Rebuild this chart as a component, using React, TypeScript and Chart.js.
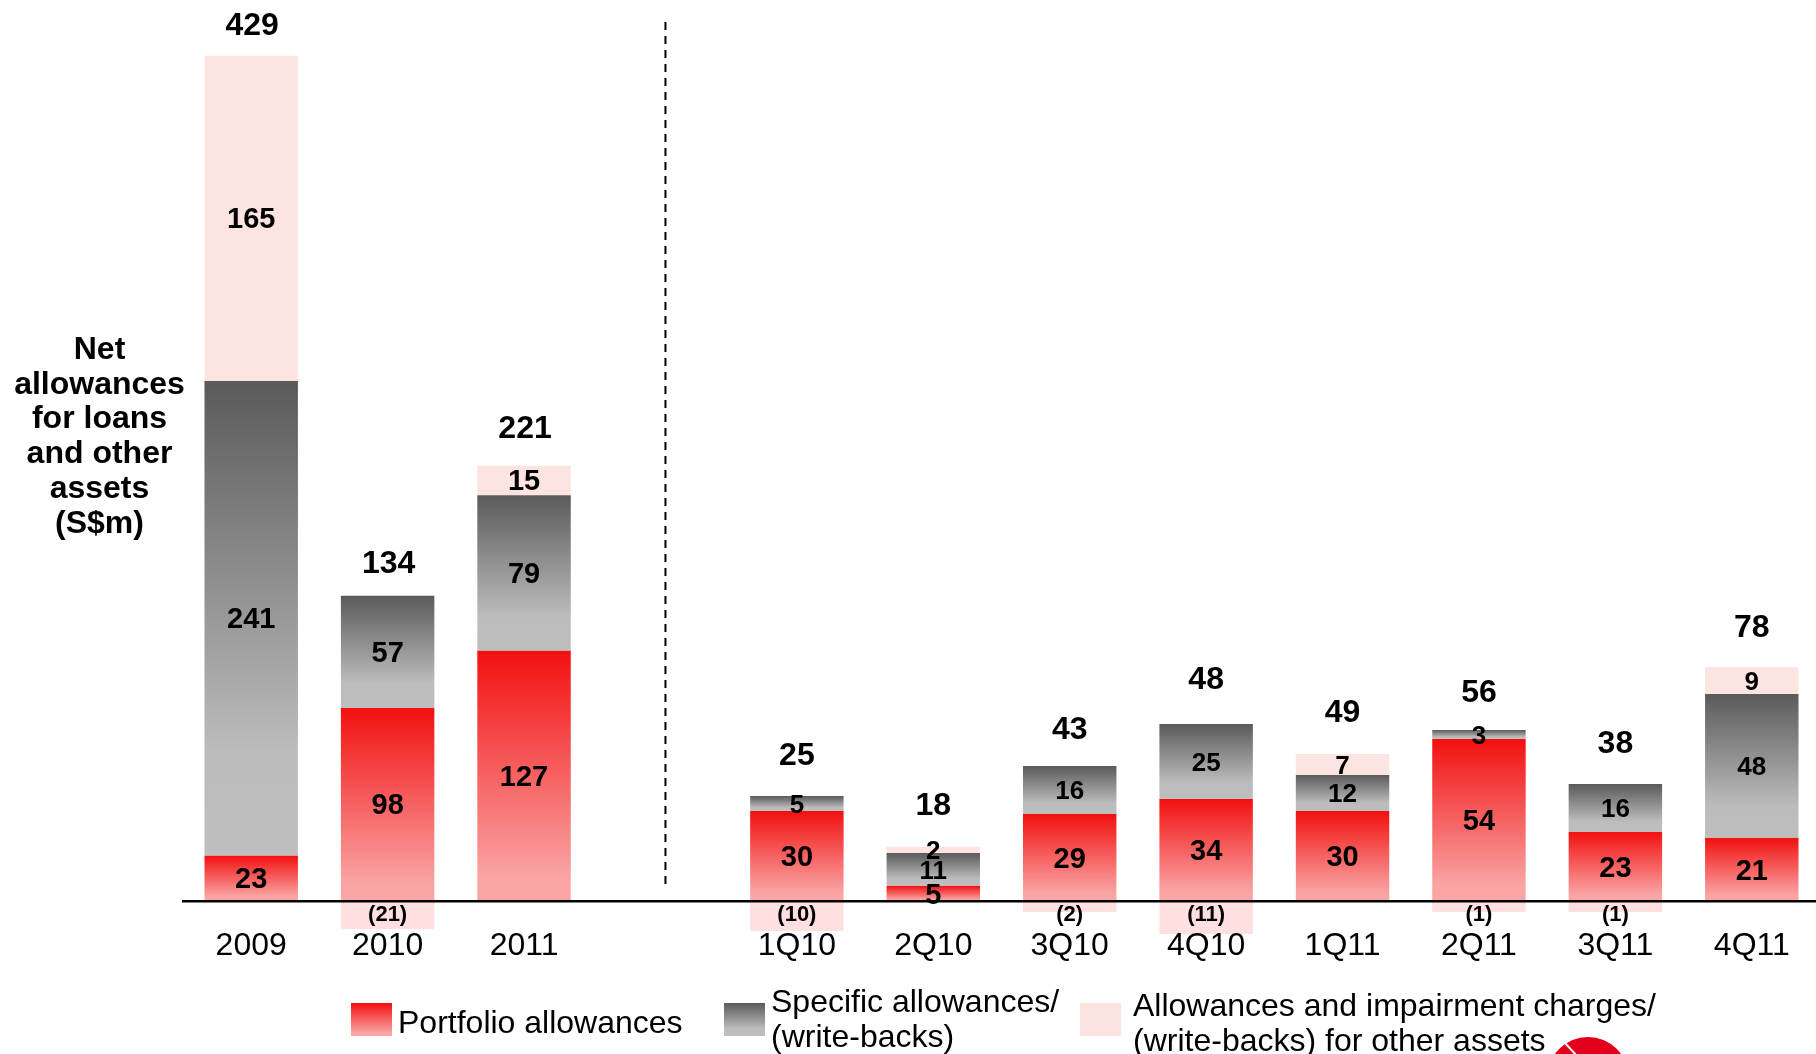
import React, { useEffect, useRef } from "react";
import { Chart, registerables } from "chart.js";

Chart.register(...registerables);

// Categories
const yearLabels = ["2009", "2010", "2011"];
const quarterLabels = ["1Q10", "2Q10", "3Q10", "4Q10", "1Q11", "2Q11", "3Q11", "4Q11"];

// Annual figures (S$m)
const portfolioYear = [23, 98, 127];
const specificYear = [241, 57, 79];
const otherYear = [165, -21, 15];
const totalYear = [429, 134, 221];

// Quarterly figures (S$m)
const portfolioQuarter = [30, 5, 29, 34, 30, 54, 23, 21];
const specificQuarter = [5, 11, 16, 25, 12, 3, 16, 48];
const otherQuarter = [-10, 2, -2, -11, 7, -1, -1, 9];
const totalQuarter = [25, 18, 43, 48, 49, 56, 38, 78];

// Text
const axisTitleLines = ["Net", "allowances", "for loans", "and other", "assets", "(S$m)"];
const legendPortfolio = ["Portfolio allowances"];
const legendSpecific = ["Specific allowances/", "(write-backs)"];
const legendOther = ["Allowances and impairment charges/", "(write-backs) for other assets"];

// Style
const FONT = '"Liberation Sans", Arial, sans-serif';
const RED_STOPS: [number, string][] = [[0, "#F21010"], [0.9, "#FAA3A3"], [1, "#FBA6A6"]];
const GREY_STOPS: [number, string][] = [[0, "#5A5A5A"], [0.78, "#BCBCBC"], [1, "#BEBEBE"]];
const PINK = "#FEE4E0";
const PINK_BELOW = "#FFDFE0";
const LEFT = 183;
const SLOT = 136.45;
const AREA_BOTTOM = 960;
const ZERO_Y = 901;
const TEXT_NUDGE = 2;

// Height of one unit in pixels for each of the independent value axes
const YEAR_UNIT = 1.97;
const QUARTER_UNIT = 3;
const YEAR_BELOW_UNIT = 1.33;

// Distance between each column's top and its total label
const yearTotalGap = [32, 33, 38];
const quarterTotalGap = [42, 43, 38, 46, 43, 39, 42, 41];

const categories = [...yearLabels, "", ...quarterLabels];
const forYears = (v: (number | null)[]) => [...v, ...Array(categories.length - yearLabels.length).fill(null)];
const forQuarters = (v: (number | null)[]) => [...Array(categories.length - quarterLabels.length).fill(null), ...v];
const above = (v: number[]) => v.map((n) => (n > 0 ? n : null));
const below = (v: number[]) => v.map((n) => (n < 0 ? n : null));

const axisRange = (unit: number) => ({
  min: -(AREA_BOTTOM - ZERO_Y) / unit,
  max: ZERO_Y / unit,
  stacked: true,
  display: false,
});

// A vertical gradient that spans exactly one bar segment
const segmentFill = (stops: [number, string][], lower: (number | null)[] | null, axisId: string) => (ctx: any) => {
  const raw = ctx.raw;
  if (ctx.type !== "data" || raw == null) return stops[0][1];
  const base = lower ? lower[ctx.dataIndex] ?? 0 : 0;
  const scale = ctx.chart.scales[axisId];
  const y0 = scale?.getPixelForValue(base + raw);
  const y1 = scale?.getPixelForValue(base);
  if (!Number.isFinite(y0) || !Number.isFinite(y1) || y0 === y1) return stops[0][1];
  const g = ctx.chart.ctx.createLinearGradient(0, y0, 0, y1);
  stops.forEach(([p, c]) => g.addColorStop(p, c));
  return g;
};

const drawLines = (c: CanvasRenderingContext2D, lines: string[], x: number, y: number, step: number) => {
  lines.forEach((line, i) => c.fillText(line, x, y + i * step));
};

const swatch = (c: CanvasRenderingContext2D, x: number, fill: string | [number, string][]) => {
  const top = 1003;
  const h = 33;
  if (typeof fill === "string") {
    c.fillStyle = fill;
  } else {
    const g = c.createLinearGradient(0, top, 0, top + h);
    fill.forEach(([p, col]) => g.addColorStop(p, col));
    c.fillStyle = g;
  }
  c.fillRect(x, top, 41, h);
};

// Value labels, totals, dashed divider, axis caption, legend and corner logo
const annotations = {
  id: "annotations",
  afterDraw(chart: any) {
    const c: CanvasRenderingContext2D = chart.ctx;
    c.save();
    c.fillStyle = "#000";
    c.textBaseline = "middle";
    c.textAlign = "center";

    chart.data.datasets.forEach((ds: any, i: number) => {
      const meta = chart.getDatasetMeta(i);
      ds.data.forEach((v: number | null, idx: number) => {
        if (v == null) return;
        const el = meta.data[idx];
        c.font = `bold ${ds.labelSize}px ${FONT}`;
        if (v < 0) {
          c.fillText(`(${-v})`, el.x, ZERO_Y + 12 + TEXT_NUDGE);
        } else {
          c.fillText(String(v), el.x, (el.y + el.base) / 2 + TEXT_NUDGE);
        }
      });
    });

    // Totals above each column
    c.font = `bold 32px ${FONT}`;
    const xScale = chart.scales.x;
    const yScale = chart.scales.y;
    const qScale = chart.scales.yQ;
    totalYear.forEach((t, i) => {
      const top = portfolioYear[i] + specificYear[i] + Math.max(otherYear[i], 0);
      c.fillText(String(t), xScale.getPixelForValue(i) + 1, yScale.getPixelForValue(top) - yearTotalGap[i] + TEXT_NUDGE);
    });
    totalQuarter.forEach((t, i) => {
      const top = portfolioQuarter[i] + specificQuarter[i] + Math.max(otherQuarter[i], 0);
      const col = categories.length - quarterLabels.length + i;
      c.fillText(String(t), xScale.getPixelForValue(col), qScale.getPixelForValue(top) - quarterTotalGap[i] + TEXT_NUDGE);
    });

    // Divider between the annual and the quarterly columns
    c.strokeStyle = "#000";
    c.lineWidth = 2;
    c.setLineDash([8, 6]);
    const dividerX = xScale.getPixelForValue(yearLabels.length) + 5;
    c.beginPath();
    c.moveTo(dividerX, 22);
    c.lineTo(dividerX, 884);
    c.stroke();
    c.setLineDash([]);

    // Caption beside the annual columns
    c.font = `bold 32px ${FONT}`;
    drawLines(c, axisTitleLines, 99.5, 350, 34.8);

    // Legend
    swatch(c, 351, RED_STOPS);
    swatch(c, 724, GREY_STOPS);
    swatch(c, 1080, "#FDE3DF");
    c.fillStyle = "#000";
    c.textAlign = "left";
    c.font = `32px ${FONT}`;
    drawLines(c, legendPortfolio, 398, 1024, 34.8);
    drawLines(c, legendSpecific, 771, 1003, 34.8);
    drawLines(c, legendOther, 1133, 1007, 34.8);

    // Corner logo
    c.fillStyle = "#E2001A";
    c.beginPath();
    c.arc(1588, 1077.5, 40.5, 0, Math.PI * 2);
    c.fill();
    c.strokeStyle = "#fff";
    c.lineWidth = 2;
    c.beginPath();
    c.moveTo(1565, 1043);
    c.lineTo(1577, 1056);
    c.stroke();
    c.restore();
  },
};

const bar = (
  data: (number | null)[],
  yAxisID: string,
  backgroundColor: any,
  labelSize: number,
  extra: object = {}
) => ({ data, yAxisID, backgroundColor, labelSize, borderWidth: 0, ...extra });

export default function App() {
  const ref = useRef<HTMLCanvasElement>(null);

  useEffect(() => {
    if (!ref.current) return;
    const yearLower = forYears(portfolioYear);
    const quarterLower = forQuarters(portfolioQuarter);

    const chart = new Chart(ref.current, {
      type: "bar",
      data: {
        labels: categories,
        datasets: [
          bar(forYears(portfolioYear), "y", segmentFill(RED_STOPS, null, "y"), 29),
          bar(forYears(specificYear), "y", segmentFill(GREY_STOPS, yearLower, "y"), 29),
          bar(forYears(above(otherYear)), "y", PINK, 29),
          bar(forYears(below(otherYear)), "yN", PINK_BELOW, 22),
          bar(forQuarters(portfolioQuarter), "yQ", segmentFill(RED_STOPS, null, "yQ"), 29),
          bar(forQuarters(specificQuarter), "yQ", segmentFill(GREY_STOPS, quarterLower, "yQ"), 26),
          bar(forQuarters(above(otherQuarter)), "yQ", PINK, 26),
          bar(forQuarters(below(otherQuarter)), "yQ", PINK_BELOW, 22, { minBarLength: 11 }),
        ] as any,
      },
      options: {
        animation: false,
        responsive: false,
        events: [],
        barPercentage: 0.685,
        categoryPercentage: 1,
        layout: {
          padding: { left: LEFT, right: 0, top: 0, bottom: 1054 - AREA_BOTTOM },
        },
        plugins: {
          legend: { display: false },
          tooltip: { enabled: false },
          title: { display: false },
        },
        scales: {
          x: {
            stacked: true,
            position: { y: 0 },
            grid: { display: false, drawTicks: false },
            border: { display: true, color: "#000", width: 2.5, z: 2 },
            ticks: {
              autoSkip: false,
              maxRotation: 0,
              minRotation: 0,
              padding: 26,
              color: "#000",
              font: { family: FONT, size: 32 },
              z: 2,
            },
          },
          y: axisRange(YEAR_UNIT),
          yQ: axisRange(QUARTER_UNIT),
          yN: axisRange(YEAR_BELOW_UNIT),
        },
      } as any,
      plugins: [annotations],
    });
    return () => chart.destroy();
  }, []);

  return (
    <div style={{ position: "fixed", left: 0, top: 0, width: 1816, height: 1054, overflow: "hidden", background: "#fff" }}>
      <canvas ref={ref} width={LEFT + SLOT * categories.length} height={1054} style={{ display: "block" }} />
    </div>
  );
}
